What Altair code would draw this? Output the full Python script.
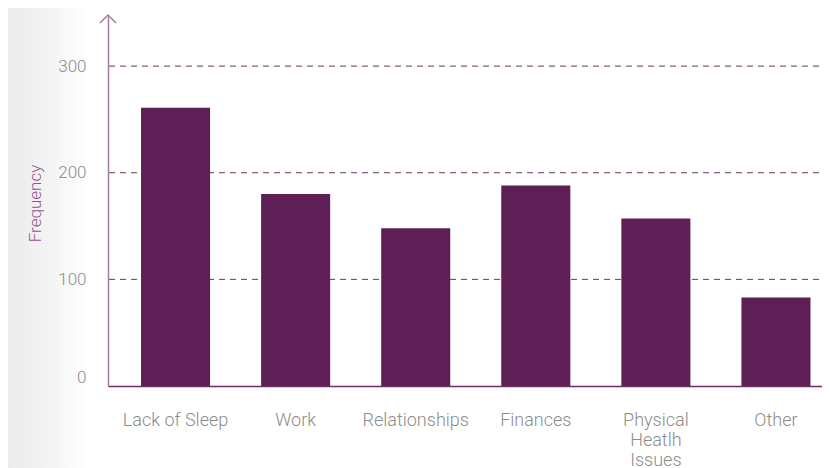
import altair as alt
import pandas as pd

categories = ["Lack of Sleep", "Work", "Relationships", "Finances",
              "Physical Heatlh Issues", "Other"]
frequencies = [261, 180, 148, 188, 157, 83]
y_ticks = [0, 100, 200, 300]
grid_values = [100, 200, 300]

BAR = "#5e1f56"
YAXIS = "#a57b9e"
XAXIS = "#6e2d65"
GRID = "#6b3563"
LABEL = "#8c8c8c"
TITLE = "#93548b"
FONT = "Roboto"

W, H = 714, 370

df = pd.DataFrame({"cause": categories, "freq": frequencies})
one = pd.DataFrame({"a": [0]})
gdf = pd.DataFrame({"freq": grid_values})

bg = alt.Chart(one).mark_rect(
    color=alt.Gradient(
        gradient="linear",
        stops=[alt.GradientStop(color="#ebebeb", offset=0),
               alt.GradientStop(color="#f6f6f6", offset=0.6),
               alt.GradientStop(color="#ffffff", offset=1)],
        x1=0, x2=1, y1=0, y2=0,
    )
).encode(x=alt.value(-100), x2=alt.value(-18), y=alt.value(-8), y2=alt.value(470))

grid = alt.Chart(gdf).mark_rule(color=GRID, strokeDash=[6, 5], strokeWidth=1).encode(
    y=alt.Y("freq:Q"),
    x=alt.value(1),
    x2=alt.value(W),
)

bars = alt.Chart(df).mark_bar(color=BAR).encode(
    x=alt.X(
        "cause:N", sort=categories,
        scale=alt.Scale(range=[0, 735.5], paddingInner=0.425, paddingOuter=0.275),
        axis=alt.Axis(
            title=None, ticks=False, domainColor=XAXIS, domainWidth=1.5,
            labelColor=LABEL, labelFontSize=18, labelFont=FONT, labelFontWeight=300,
            labelPadding=25, labelLineHeight=20, labelAngle=0, labelBaseline="top",
            labelExpr="length(datum.value) > 15 ? split(datum.value, ' ') : datum.value",
            zindex=1,
        ),
    ),
    y=alt.Y(
        "freq:Q",
        scale=alt.Scale(domain=[0, 347], nice=False),
        axis=alt.Axis(
            values=y_ticks, grid=False, ticks=False, domainColor=YAXIS, domainWidth=1.5,
            labelColor=LABEL, labelFontSize=17, labelFont=FONT, labelFontWeight=300,
            labelPadding=22, labelFlush=True,
            title="Frequency", titleColor=TITLE, titleFontSize=17, titleFont=FONT,
            titleFontWeight=300, titleX=-73, titleY=187, titleAngle=-90,
            titleBaseline="middle", titleAlign="center",
            zindex=1,
        ),
    ),
)

arrow = alt.Chart(one).mark_point(
    shape="M-1,1L0,0L1,1", filled=False, size=256, strokeWidth=1.5,
    color=YAXIS, opacity=1,
).encode(x=alt.value(0), y=alt.value(-1))

chart = alt.layer(bg, grid, bars, arrow).properties(
    width=W, height=H,
    padding={"left": 100, "top": 8, "right": 0, "bottom": 82},
    autosize=alt.AutoSizeParams(type="none"),
).configure_view(stroke=None)

chart.save("out.html", embed_options={"renderer": "svg", "actions": False})
